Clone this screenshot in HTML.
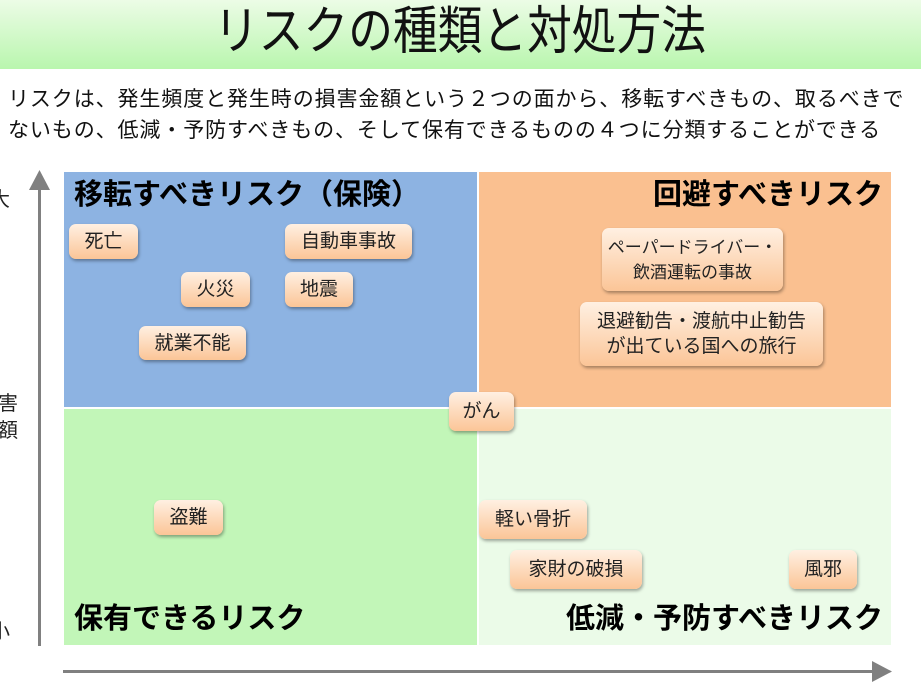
<!DOCTYPE html>
<html><head><meta charset="utf-8"><style>
*{margin:0;padding:0;box-sizing:border-box}
body{width:921px;height:688px;position:relative;overflow:hidden;background:#fff;font-family:"Liberation Sans","Noto Sans CJK JP",sans-serif;color:#111}
.a{position:absolute}
.title{left:0;top:0;width:921px;height:69px;background:linear-gradient(#ecfce6,#b9f6ae);text-align:center;font-size:52px;line-height:64px}
.desc{left:8px;top:84px;font-size:21px;line-height:31px;white-space:nowrap;letter-spacing:0.9px}
.q{position:absolute}
.lab{position:absolute;font-size:29px;font-weight:bold;white-space:nowrap;color:#000;line-height:36px}
.n{position:absolute;border-radius:7px;background:linear-gradient(#fff0e2,#fbc597);box-shadow:1px 2px 3px rgba(0,0,0,.35);display:flex;align-items:center;justify-content:center;text-align:center;font-size:19px;line-height:25px;color:#222;white-space:nowrap}
.ax{position:absolute;font-size:20px;color:#222}
</style></head><body>
<div class="a title"><span style="display:inline-block;transform:scaleX(0.86)">リスクの種類と対処方法</span></div>
<div class="a desc">リスクは、発生頻度と発生時の損害金額という２つの面から、移転すべきもの、取るべきで<br>ないもの、低減・予防すべきもの、そして保有できるものの４つに分類することができる</div>

<div class="q" style="left:64px;top:172px;width:413px;height:235px;background:#8db3e2"></div>
<div class="q" style="left:479px;top:172px;width:412px;height:235px;background:#fac090"></div>
<div class="q" style="left:64px;top:409px;width:413px;height:236px;background:#c2f6b8"></div>
<div class="q" style="left:479px;top:409px;width:412px;height:236px;background:#ebfbe8"></div>

<div class="lab" style="left:74px;top:177px">移転すべきリスク（保険）</div>
<div class="lab" style="right:38px;top:177px">回避すべきリスク</div>
<div class="lab" style="left:74px;top:601px">保有できるリスク</div>
<div class="lab" style="right:38px;top:601px">低減・予防すべきリスク</div>

<div class="a" style="left:38px;top:188px;width:3px;height:458px;background:#808080"></div>
<svg class="a" style="left:29px;top:170px" width="21" height="20"><polygon points="10.5,0 21,20 0,20" fill="#808080"/></svg>
<div class="a" style="left:63px;top:670px;width:812px;height:3px;background:#808080"></div>
<svg class="a" style="left:872px;top:661px" width="20" height="21"><polygon points="20,10.5 0,0 0,21" fill="#808080"/></svg>
<div class="ax" style="left:-10px;top:183px">大</div>
<div class="ax" style="left:-2px;top:387px">害</div>
<div class="ax" style="left:-2px;top:414px">額</div>
<div class="ax" style="left:-10px;top:615px">小</div>

<div class="n" style="left:69px;top:224px;width:69px;height:35px">死亡</div>
<div class="n" style="left:285px;top:224px;width:127px;height:35px">自動車事故</div>
<div class="n" style="left:181px;top:272px;width:69px;height:35px">火災</div>
<div class="n" style="left:285px;top:272px;width:68px;height:35px">地震</div>
<div class="n" style="left:139px;top:326px;width:107px;height:34px">就業不能</div>
<div class="n" style="left:449px;top:392px;width:65px;height:39px">がん</div>
<div class="n" style="left:154px;top:500px;width:69px;height:35px">盗難</div>
<div class="n" style="left:479px;top:500px;width:108px;height:39px">軽い骨折</div>
<div class="n" style="left:510px;top:550px;width:132px;height:39px">家財の破損</div>
<div class="n" style="left:789px;top:550px;width:68px;height:39px">風邪</div>
<div class="n" style="left:602px;top:228px;width:181px;height:63px;font-size:17px">ペーパードライバー・<br>飲酒運転の事故</div>
<div class="n" style="left:580px;top:302px;width:243px;height:64px">退避勧告・渡航中止勧告<br>が出ている国への旅行</div>
</body></html>
